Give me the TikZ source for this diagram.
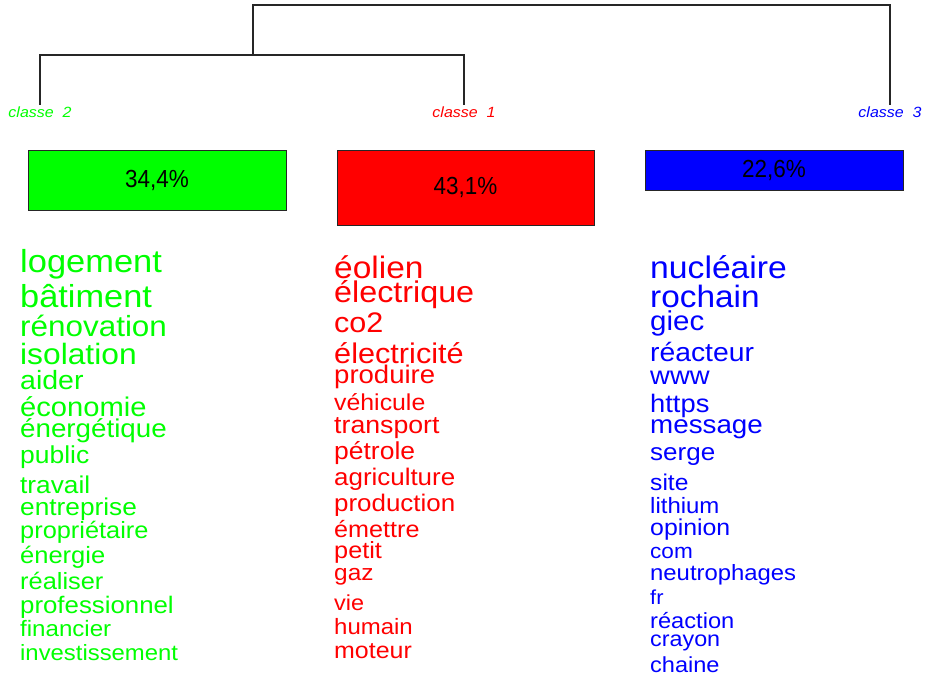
\documentclass[tikz,border=0pt]{standalone}
\usepackage{fontspec}
\usepackage{tikz}
\newfontfamily\wordfont[FakeStretch=1.08]{Liberation Sans}
\newfontfamily\pctfont[FakeStretch=0.91]{Liberation Sans}

\begin{document}
\begin{tikzpicture}[x=1pt, y=-1pt,
	link/.style={draw=black!85, line width=1.2pt},
	classlabel/.style={anchor=base, inner sep=0pt, font=\wordfont\itshape\fontsize{14.8}{15}\selectfont},
	pctbox/.style={draw=black!85, line width=1pt, inner sep=0pt, font=\pctfont\fontsize{24.7}{25}\selectfont},
	word/.style={anchor=base west, inner sep=0pt, font=\wordfont\fontsize{#1}{#1}\selectfont}]
	\useasboundingbox (0,0) rectangle (930,677);
	% dendrogram
	\coordinate (l2) at (40,105);
	\coordinate (l1) at (464,105);
	\coordinate (l3) at (890,105);
	\coordinate (j21) at (253,55);
	\coordinate (root) at (572,5);
	\draw[link] (l2) |- (j21) -| (l1);
	\draw[link] (j21) |- (root) -| (l3);
	% class labels
	\node[classlabel, text=green] (k2) at (40,117.5) {classe\ \ 2};
	\node[classlabel, text=red] (k1) at (464,117.5) {classe\ \ 1};
	\node[classlabel, text=blue] (k3) at (890,117.5) {classe\ \ 3};
	% boxes
	\node[pctbox, fill=green, minimum width=258pt, minimum height=60pt] (b2) at (157,180) {34,4\%};
	\node[pctbox, fill=red, minimum width=257pt, minimum height=75pt] (b1) at (465.5,187.5) {43,1\%};
	\node[pctbox, fill=blue, minimum width=258pt, minimum height=40pt] (b3) at (774,170) {22,6\%};
	% classe 2
	\foreach \w/\s/\b [count=\i] in {logement/31.9/272, bâtiment/31.8/307, rénovation/29.1/336,
		isolation/29.4/364, aider/26.4/389, économie/27.0/416, énergétique/25.7/437,
		public/24.5/463, travail/24.3/493, entreprise/24.3/515, propriétaire/23.5/538,
		énergie/23.6/563, réaliser/23.5/589, professionnel/23.9/613, financier/22.3/636,
		investissement/22.1/660}
		\node[word=\s, text=green] (g\i) at (20,\b) {\w};
	% classe 1
	\foreach \w/\s/\b [count=\i] in {éolien/31.0/278, électrique/29.9/302, co2/28.3/332,
		électricité/28.4/363, produire/25.5/383, véhicule/23.0/410, transport/24.7/433,
		pétrole/24.5/459, agriculture/24.0/485, production/24.0/511, émettre/23.3/537,
		petit/23.4/558, gaz/22.6/580, vie/21.7/610, humain/22.2/634, moteur/23.1/658}
		\node[word=\s, text=red] (r\i) at (334,\b) {\w};
	% classe 3
	\foreach \w/\s/\b [count=\i] in {nucléaire/31.2/278, rochain/30.9/307, giec/27.3/330,
		réacteur/26.2/361, www/25.4/384, https/25.3/412, message/25.7/433, serge/24.1/460,
		site/22.8/490, lithium/22.2/513, opinion/23.0/535, com/20.9/558,
		neutrophages/22.1/580, fr/20.2/604, réaction/21.9/628, crayon/21.6/646,
		chaine/21.8/672}
		\node[word=\s, text=blue] (u\i) at (650,\b) {\w};
\end{tikzpicture}
\end{document}
